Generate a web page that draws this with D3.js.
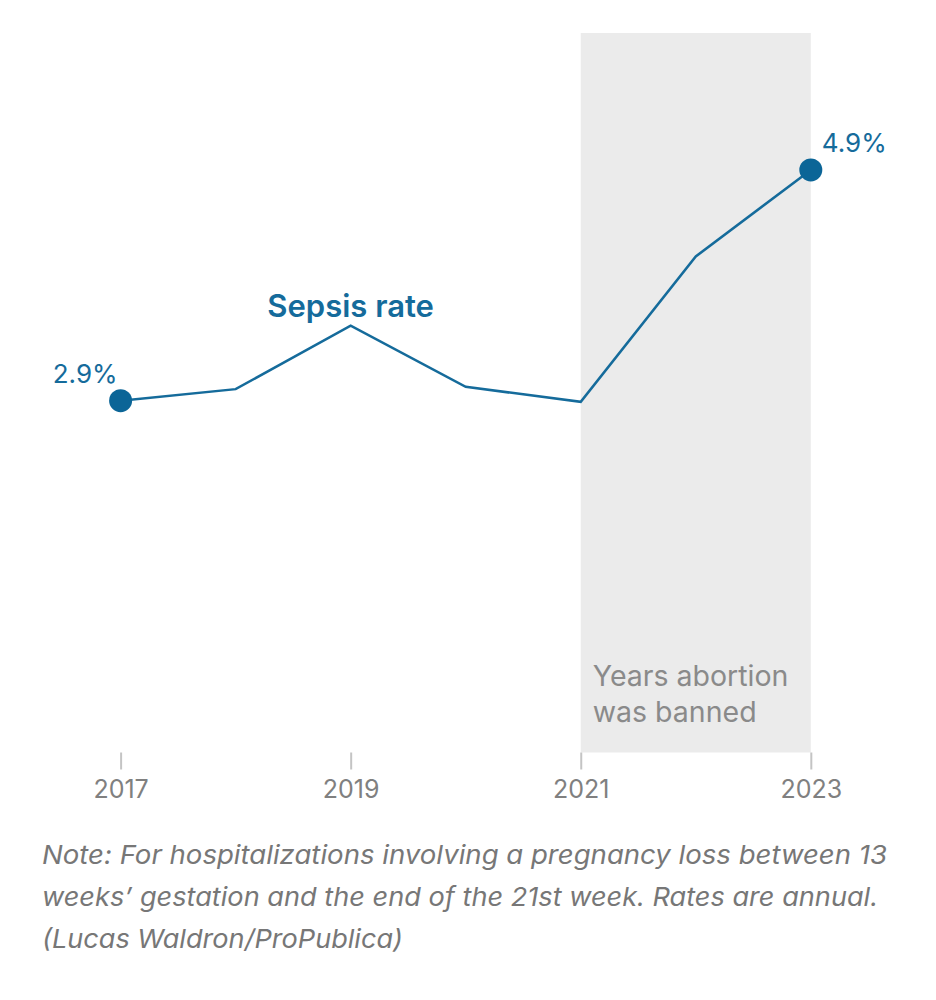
<!DOCTYPE html>
<html>
<head>
<meta charset="utf-8">
<script src="https://cdn.jsdelivr.net/npm/d3@7"></script>
<style>
  html, body { margin: 0; padding: 0; background: #fff; }
  svg text { font-family: "Inter", "Roboto", sans-serif; }
</style>
</head>
<body>
<svg id="chart" width="936" height="1000"></svg>
<script>
// ---- data ----
const years = [2017, 2018, 2019, 2020, 2021, 2022, 2023];
const sepsisRate = [2.9, 3.0, 3.55, 3.02, 2.89, 4.15, 4.9];
const tickYears = [2017, 2019, 2021, 2023];
const banStart = 2021;
const banEnd = 2023;
const seriesLabel = "Sepsis rate";
const bandLabel = ["Years abortion", "was banned"];
const noteLines = [
  "Note: For hospitalizations involving a pregnancy loss between 13",
  "weeks\u2019 gestation and the end of the 21st week. Rates are annual.",
  "(Lucas Waldron/ProPublica)"
];

const svg = d3.select("#chart");
const blue = "#156b9b";
const dotBlue = "#0b6597";

const x = d3.scaleLinear().domain([2017, 2023]).range([120.6, 810.8]);
const y = d3.scaleLinear().domain([0, 6]).range([735.2, 43.1]);
const plotTop = 33, plotBottom = 752.5;

// shaded band
svg.append("rect")
  .attr("x", x(banStart)).attr("y", plotTop)
  .attr("width", x(banEnd) - x(banStart))
  .attr("height", plotBottom - plotTop)
  .attr("fill", "#ebebeb");

// band label
const bl = svg.append("text")
  .attr("x", x(banStart) + 12).attr("y", 686)
  .attr("fill", "#8a8a8a").style("font-size", "28.5px");
bandLabel.forEach((t, i) => {
  bl.append("tspan").attr("x", x(banStart) + 12).attr("dy", i === 0 ? 0 : 36).text(t);
});

// x axis
const axis = d3.axisBottom(x).tickValues(tickYears).tickFormat(d3.format("d"))
  .tickSize(17).tickPadding(11);
const gx = svg.append("g").attr("transform", `translate(0,${plotBottom})`).call(axis);
gx.select(".domain").remove();
gx.selectAll(".tick line").attr("stroke", "#c4c4c4").attr("stroke-width", 2);
gx.selectAll(".tick text").attr("fill", "#808080")
  .style("font-size", "25px").style("font-family", "Inter, sans-serif");

// line
const data = years.map((yr, i) => ({ year: yr, v: sepsisRate[i] }));
const line = d3.line().x(d => x(d.year)).y(d => y(d.v));
svg.append("path").datum(data)
  .attr("d", line).attr("fill", "none")
  .attr("stroke", blue).attr("stroke-width", 2.5)
  .attr("stroke-linejoin", "miter");

// end dots
const ends = [data[0], data[data.length - 1]];
svg.selectAll("circle.end").data(ends).enter().append("circle")
  .attr("class", "end")
  .attr("cx", d => x(d.year)).attr("cy", d => y(d.v))
  .attr("r", 11.5).attr("fill", dotBlue);

// value labels
svg.append("text")
  .attr("x", x(data[0].year) - 3).attr("y", y(data[0].v) - 18)
  .attr("text-anchor", "end").attr("fill", blue)
  .style("font-size", "26px")
  .text(d3.format(".1f")(data[0].v) + "%");
svg.append("text")
  .attr("x", x(data[6].year) + 11).attr("y", y(data[6].v) - 18)
  .attr("text-anchor", "start").attr("fill", blue)
  .style("font-size", "26px")
  .text(d3.format(".1f")(data[6].v) + "%");

// series label
svg.append("text")
  .attr("x", x(2019)).attr("y", 317)
  .attr("text-anchor", "middle").attr("fill", blue)
  .style("font-size", "31px").style("font-weight", "600")
  .text(seriesLabel);

// note
const noteWidths = [845, 836, 361];
svg.selectAll("text.note").data(noteLines).enter().append("text")
  .attr("class", "note")
  .attr("x", 42).attr("y", (d, i) => 864 + i * 42)
  .attr("fill", "#777777")
  .style("font-size", "26px").style("font-style", "italic")
  .attr("textLength", (d, i) => noteWidths[i])
  .attr("lengthAdjust", "spacingAndGlyphs")
  .text(d => d);
</script>
</body>
</html>
